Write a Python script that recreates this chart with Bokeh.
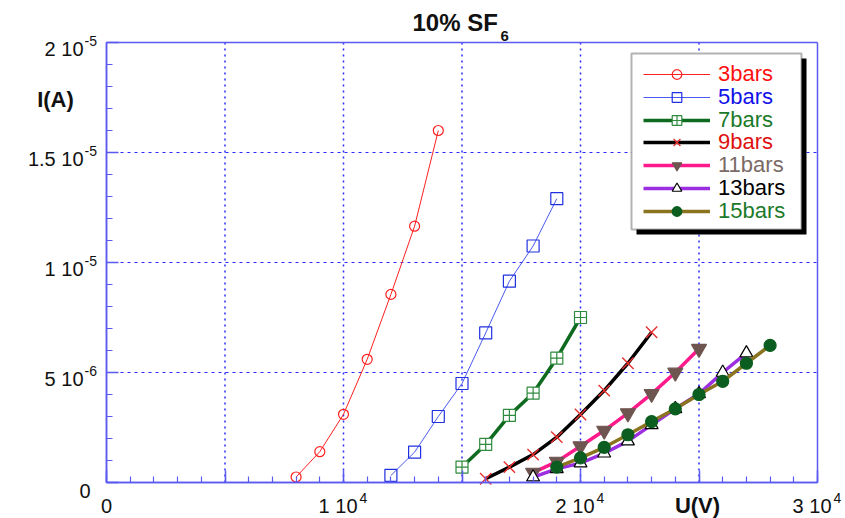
from bokeh.plotting import figure
from bokeh.models import (Range1d, FixedTicker, Label, Legend, LegendItem,
                          BoxAnnotation, LinearAxis)
from bokeh.embed import file_html
from bokeh.resources import INLINE

# Current-voltage characteristics in a 10% SF6 mixture, one series per pressure
u_3bars = [8000, 9000, 10000, 11000, 12000, 13000, 14000]
i_3bars = [0.25e-6, 1.4e-6, 3.1e-6, 5.6e-6, 8.55e-6, 11.65e-6, 16.0e-6]

u_5bars = [12000, 13000, 14000, 15000, 16000, 17000, 18000, 19000]
i_5bars = [0.32e-6, 1.38e-6, 3.0e-6, 4.5e-6, 6.8e-6, 9.15e-6, 10.75e-6, 12.9e-6]

u_7bars = [15000, 16000, 17000, 18000, 19000, 20000]
i_7bars = [0.7e-6, 1.73e-6, 3.05e-6, 4.06e-6, 5.65e-6, 7.5e-6]

u_9bars = [16000, 17000, 18000, 19000, 20000, 21000, 22000, 23000]
i_9bars = [0.17e-6, 0.7e-6, 1.27e-6, 2.06e-6, 3.09e-6, 4.18e-6, 5.42e-6, 6.83e-6]

u_11bars = [18000, 19000, 20000, 21000, 22000, 23000, 24000, 25000]
i_11bars = [0.45e-6, 0.95e-6, 1.65e-6, 2.36e-6, 3.15e-6, 4.03e-6, 5.0e-6, 6.08e-6]

u_13bars = [18000, 19000, 20000, 21000, 22000, 23000, 24000, 25000, 26000, 27000]
i_13bars = [0.24e-6, 0.62e-6, 0.88e-6, 1.33e-6, 1.88e-6, 2.62e-6, 3.35e-6, 4.03e-6, 5.0e-6, 5.88e-6]

u_15bars = [19000, 20000, 21000, 22000, 23000, 24000, 25000, 26000, 27000, 28000]
i_15bars = [0.7e-6, 1.12e-6, 1.6e-6, 2.17e-6, 2.77e-6, 3.35e-6, 4.0e-6, 4.6e-6, 5.42e-6, 6.23e-6]

# Axis ticks and their labels (mantissa + power of ten)
x_ticks = [0, 10000, 20000, 30000]
x_tick_base = ["0", "1 10", "2 10", "3 10"]
x_tick_exp = ["", "4", "4", "4"]

y_ticks = [0, 5e-6, 1e-5, 1.5e-5, 2e-5]
y_tick_base = ["0", "5 10", "1 10", "1.5 10", "2 10"]
y_tick_exp = ["", "-6", "-5", "-5", "-5"]

X_MIN, X_MAX = 0, 30000
Y_MIN, Y_MAX = 0, 2e-5
X_LONG = list(range(0, 30001, 5000))          # long ticks
X_SHORT = list(range(0, 30001, 1000))         # short ticks
Y_LONG = [k * 5e-6 for k in range(5)]
Y_SHORT = [k * 1e-6 for k in range(21)]
X_GRID = [5000, 10000, 15000, 20000, 25000]
Y_GRID = [5e-6, 1e-5, 1.5e-5]

FONT = "Liberation Sans"
AXIS_BLUE = "#5a5af0"
GRID_BLUE = "#2a2aff"
TEXT = "#111111"

# Page size and where the data box sits on it (pixels from the top-left)
W, H = 845, 518
BOX_L, BOX_R, BOX_T, BOX_B = 106, 817, 42, 482

# The plot frame covers the whole page; ranges are widened so that the data
# box lands on BOX_* and the surrounding margin holds the texts.
kx = (X_MAX - X_MIN) / (BOX_R - BOX_L)
ky = (Y_MAX - Y_MIN) / (BOX_B - BOX_T)
x_range = Range1d(X_MIN - BOX_L * kx, X_MAX + (W - BOX_R) * kx)
y_range = Range1d(Y_MIN - (H - BOX_B) * ky, Y_MAX + BOX_T * ky)

p = figure(width=W, height=H, output_backend="svg", toolbar_location=None,
           x_range=x_range, y_range=y_range, min_border=0)
p.background_fill_color = "white"
p.border_fill_color = "white"
p.outline_line_color = None
p.xgrid.visible = False
p.ygrid.visible = False


def style_axis(ax, ticks, tick_len, bounds, loc):
    # ticks are drawn as label-free minor ticks pointing into the box
    ax.ticker = FixedTicker(ticks=[], minor_ticks=ticks)
    ax.bounds = bounds
    ax.fixed_location = loc
    ax.axis_line_color = AXIS_BLUE
    ax.axis_line_width = 1.5
    ax.major_tick_line_color = None
    ax.minor_tick_line_color = AXIS_BLUE
    ax.minor_tick_line_width = 1.5 if tick_len > 8 else 1.2
    ax.major_tick_in = 0
    ax.major_tick_out = 0
    ax.minor_tick_in = tick_len
    ax.minor_tick_out = 0
    ax.major_label_text_font_size = "0px"
    ax.major_label_standoff = 0


style_axis(p.xaxis[0], X_SHORT, 6, (X_MIN, X_MAX), Y_MIN)
style_axis(p.yaxis[0], Y_SHORT, 6, (Y_MIN, Y_MAX), X_MIN)

x_long_ax = LinearAxis()
style_axis(x_long_ax, X_LONG, 12, (X_MIN, X_MAX), Y_MIN)
p.add_layout(x_long_ax, "below")
y_long_ax = LinearAxis()
style_axis(y_long_ax, Y_LONG, 12, (Y_MIN, Y_MAX), X_MIN)
p.add_layout(y_long_ax, "left")

# Closing edges of the box (no ticks)
top_ax = LinearAxis()
style_axis(top_ax, [], 0, (X_MIN, X_MAX), Y_MAX)
p.add_layout(top_ax, "above")
right_ax = LinearAxis()
style_axis(right_ax, [], 0, (Y_MIN, Y_MAX), X_MAX)
p.add_layout(right_ax, "right")

# Dotted grid inside the box
p.segment(x0=X_GRID, y0=[Y_MIN] * len(X_GRID), x1=X_GRID, y1=[Y_MAX] * len(X_GRID),
          line_color=GRID_BLUE, line_width=1.5, line_dash="2 4")
p.segment(x0=[X_MIN] * len(Y_GRID), y0=Y_GRID, x1=[X_MAX] * len(Y_GRID), y1=Y_GRID,
          line_color=GRID_BLUE, line_width=1.2, line_dash="3 4")

# Series: (label, x, y, line color, line width, marker, marker size, marker line, marker fill, label color)
series = [
    ("3bars", u_3bars, i_3bars, "#ff2020", 1, "circle", 10, "#ff2020", None, "#ff1010"),
    ("5bars", u_5bars, i_5bars, "#4a5af0", 1, "square", 12, "#2030e0", None, "#1010e8"),
    ("7bars", u_7bars, i_7bars, "#0e6a1e", 3.5, "square_cross", 12, "#2e8a3e", "white", "#1b7a2a"),
    ("9bars", u_9bars, i_9bars, "black", 3.5, "x", 16, "#e83030", None, "#e01010"),
    ("11bars", u_11bars, i_11bars, "#ff1a8c", 3.5, "inverted_triangle", 15, None, "#6e5550", "#7a6a66"),
    ("13bars", u_13bars, i_13bars, "#9a2ee0", 3.5, "triangle", 13, "black", "white", "black"),
    ("15bars", u_15bars, i_15bars, "#8a7420", 3.5, "circle", 12, None, "#0b5e1f", "#1b7a2a"),
]

# Legend frame with drop shadow (screen units, origin at the bottom-left)
bx0, bx1, by0, by1 = 631, 801, 53, 229
p.add_layout(BoxAnnotation(left=bx0 + 5, right=bx1 + 5, top=H - (by0 + 5), bottom=H - (by1 + 5),
                           left_units="screen", right_units="screen",
                           top_units="screen", bottom_units="screen",
                           fill_color="black", fill_alpha=1, line_alpha=0), "center")
p.add_layout(BoxAnnotation(left=bx0, right=bx1, top=H - by0, bottom=H - by1,
                           left_units="screen", right_units="screen",
                           top_units="screen", bottom_units="screen",
                           fill_color="white", fill_alpha=1, line_color="black",
                           line_width=2), "center")

ROW0, ROW_STEP, ROW_H = 75, 22.8, 24
for idx, (name, xs, ys, lc, lw, mk, ms, mlc, mfc, tc) in enumerate(series):
    ln = p.line(xs, ys, line_color=lc, line_width=lw)
    sc = p.scatter(xs, ys, marker=mk, size=ms,
                   line_color=mlc if mlc else mfc, line_width=1.4 if mk == "x" else 1.2,
                   fill_color=mfc if mfc else None, fill_alpha=1 if mfc else 0)
    cy = ROW0 + idx * ROW_STEP
    leg = Legend(items=[LegendItem(label=name, renderers=[ln, sc])],
                 location=(643, H - (cy + ROW_H / 2)),
                 orientation="vertical", padding=0, margin=0, spacing=0,
                 glyph_width=67, glyph_height=ROW_H, label_height=ROW_H,
                 label_standoff=8, label_text_font=FONT,
                 label_text_font_size="22px", label_text_color=tc,
                 background_fill_alpha=0, border_line_alpha=0)
    p.add_layout(leg, "center")


def text(**kw):
    base = dict(text_font=FONT, text_color=TEXT, text_baseline="middle")
    base.update(kw)
    p.add_layout(Label(**base))


# Tick labels with superscripted powers of ten
for t, b, e in zip(x_ticks, x_tick_base, x_tick_exp):
    if e:
        text(x=t, y=Y_MIN, x_offset=14, y_offset=-23, text=b, text_align="right", text_font_size="20px")
        text(x=t, y=Y_MIN, x_offset=16, y_offset=-15, text=e, text_align="left", text_font_size="14px")
    else:
        text(x=t, y=Y_MIN, y_offset=-23, text=b, text_align="center", text_font_size="20px")

for t, b, e in zip(y_ticks, y_tick_base, y_tick_exp):
    if e:
        text(x=X_MIN, y=t, x_offset=-23, y_offset=-6, text=b, text_align="right", text_font_size="20px")
        text(x=X_MIN, y=t, x_offset=-22, y_offset=2, text=e, text_align="left", text_font_size="14px")
    else:
        text(x=X_MIN, y=t, x_offset=-16, y_offset=-8, text=b, text_align="right", text_font_size="20px")

# Axis titles and chart title (screen units)
text(x=55, y=H - 99, x_units="screen", y_units="screen", text="I(A)", text_align="center",
     text_font_style="bold", text_font_size="22px")
text(x=697, y=H - 505, x_units="screen", y_units="screen", text="U(V)", text_align="center",
     text_font_style="bold", text_font_size="22px")
text(x=412, y=H - 22, x_units="screen", y_units="screen", text="10% SF", text_align="left",
     text_font_style="bold", text_font_size="24px")
text(x=500, y=H - 35, x_units="screen", y_units="screen", text="6", text_align="left",
     text_font_style="bold", text_font_size="15px")

open("out.html", "w").write(file_html(p, INLINE))
